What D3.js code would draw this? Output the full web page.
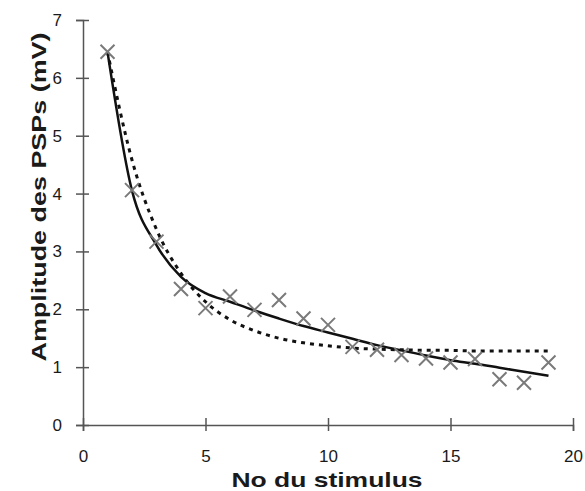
<!DOCTYPE html>
<html>
<head>
<meta charset="utf-8">
<script src="https://cdn.jsdelivr.net/npm/d3@7"></script>
<style>
  body { margin: 0; background: #fff; }
  text { font-family: "Liberation Sans", Arial, sans-serif; fill: #1a1a1a; }
</style>
</head>
<body>
<svg id="chart" width="585" height="491"></svg>
<script>
// stimulus numbers and measured PSP amplitudes (mV)
const stimuli = [1, 2, 3, 4, 5, 6, 7, 8, 9, 10, 11, 12, 13, 14, 15, 16, 17, 18, 19];
const measured = [6.45, 4.06, 3.17, 2.35, 2.02, 2.22, 1.99, 2.16, 1.84, 1.73, 1.35, 1.30, 1.21, 1.15, 1.08, 1.14, 0.79, 0.73, 1.08];

// solid fitted curve, read at each stimulus
const fitSolid = [6.45, 4.05, 3.11, 2.56, 2.28, 2.13, 1.98, 1.84, 1.71, 1.60, 1.49, 1.38, 1.29, 1.20, 1.12, 1.06, 0.99, 0.92, 0.85];
// dotted fitted curve, read at each stimulus
const fitDotted = [6.45, 4.58, 3.38, 2.62, 2.13, 1.82, 1.63, 1.50, 1.42, 1.37, 1.33, 1.31, 1.30, 1.29, 1.29, 1.28, 1.28, 1.28, 1.28];

const xTicks = [0, 5, 10, 15, 20];
const yTicks = [0, 1, 2, 3, 4, 5, 6, 7];

let svg = d3.select("#chart");

let xScale = d3.scaleLinear().domain([0, 20]).range([83, 573]);
let yScale = d3.scaleLinear().domain([0, 7]).range([425, 20]);

// X-axis (ticks cross the line)
let xAxis = svg.append("g")
    .attr("transform", "translate(0, 425)")
    .call(d3.axisBottom(xScale).tickValues(xTicks).tickFormat(d3.format("d")).tickSize(6).tickPadding(19));
xAxis.select(".domain").attr("stroke", "#555").attr("stroke-width", 1.5);
xAxis.selectAll(".tick line").attr("y1", -7).attr("stroke", "#555").attr("stroke-width", 1.5);
xAxis.selectAll(".tick text").attr("font-size", 17).attr("fill", "#1a1a1a")
    .attr("font-family", "Liberation Sans, Arial, sans-serif");

// Y-axis
let yAxis = svg.append("g")
    .attr("transform", "translate(83, 0)")
    .call(d3.axisLeft(yScale).tickValues(yTicks).tickFormat(d3.format("d")).tickSize(7).tickPadding(14));
yAxis.select(".domain").attr("stroke", "#555").attr("stroke-width", 1.5);
yAxis.selectAll(".tick line").attr("x1", 6).attr("stroke", "#555").attr("stroke-width", 1.5);
yAxis.selectAll(".tick text").attr("font-size", 17).attr("fill", "#1a1a1a")
    .attr("font-family", "Liberation Sans, Arial, sans-serif");

// fitted curves
let fitLine = d3.line()
    .x((d, i) => xScale(stimuli[i]))
    .y(d => yScale(d))
    .curve(d3.curveMonotoneX);

svg.append("path")
    .datum(fitDotted)
    .attr("fill", "none")
    .attr("stroke", "#111")
    .attr("stroke-width", 3)
    .attr("stroke-dasharray", "4,5")
    .attr("d", fitLine);

svg.append("path")
    .datum(fitSolid)
    .attr("fill", "none")
    .attr("stroke", "#111")
    .attr("stroke-width", 2.5)
    .attr("d", fitLine);

// data crosses
let cross = 7;
svg.append("g").selectAll("path")
    .data(measured)
    .enter()
    .append("path")
    .attr("d", (d, i) => {
        let cx = xScale(stimuli[i]), cy = yScale(d);
        return `M${cx - cross},${cy - cross}L${cx + cross},${cy + cross}M${cx - cross},${cy + cross}L${cx + cross},${cy - cross}`;
    })
    .attr("stroke", "#7a7a7a")
    .attr("stroke-width", 2)
    .attr("fill", "none");

// axis titles
svg.append("text")
    .attr("x", 327)
    .attr("y", 487)
    .attr("text-anchor", "middle")
    .attr("font-size", 21)
    .attr("font-weight", "bold")
    .attr("textLength", 191)
    .attr("lengthAdjust", "spacingAndGlyphs")
    .text("No du stimulus");

svg.append("text")
    .attr("transform", "translate(46, 197) rotate(-90)")
    .attr("text-anchor", "middle")
    .attr("font-size", 21)
    .attr("font-weight", "bold")
    .attr("textLength", 329)
    .attr("lengthAdjust", "spacingAndGlyphs")
    .text("Amplitude des PSPs (mV)");
</script>
</body>
</html>
